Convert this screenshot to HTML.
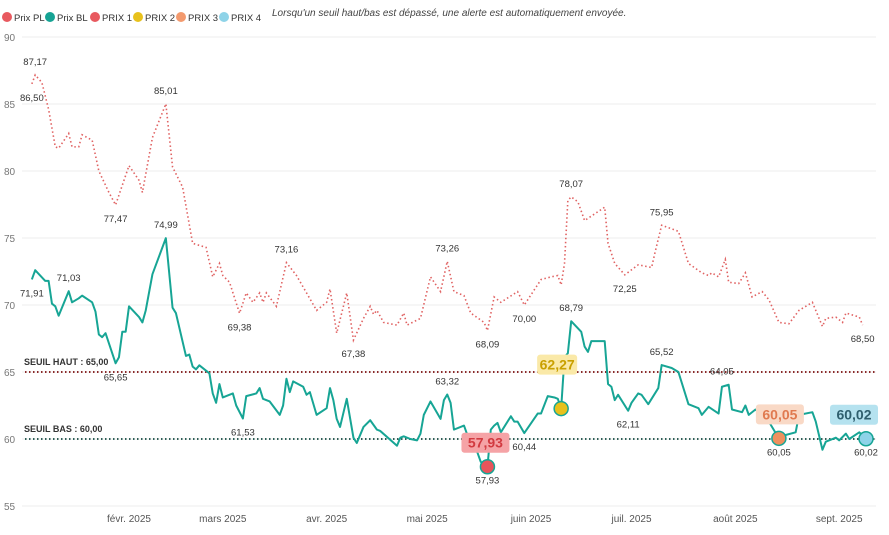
<!DOCTYPE html>
<html><head><meta charset="utf-8">
<style>
body{margin:0;background:#fff;font-family:"Liberation Sans",sans-serif;}
svg text{font-family:"Liberation Sans",sans-serif;}
</style></head>
<body>
<svg id="chart" width="889" height="530" viewBox="0 0 889 530" xmlns="http://www.w3.org/2000/svg">
<g>
  <g><circle cx="7" cy="17" r="5" fill="#E8595F"/><text x="14" y="21" font-size="9.5" fill="#333">Prix PL</text></g>
  <g><circle cx="50" cy="17" r="5" fill="#16A394"/><text x="57" y="21" font-size="9.5" fill="#333">Prix BL</text></g>
  <g><circle cx="95" cy="17" r="5" fill="#E8595F"/><text x="102" y="21" font-size="9.5" fill="#333">PRIX 1</text></g>
  <g><circle cx="138" cy="17" r="5" fill="#E8C11C"/><text x="145" y="21" font-size="9.5" fill="#333">PRIX 2</text></g>
  <g><circle cx="181" cy="17" r="5" fill="#F39A6E"/><text x="188" y="21" font-size="9.5" fill="#333">PRIX 3</text></g>
  <g><circle cx="224" cy="17" r="5" fill="#8ED3E8"/><text x="231" y="21" font-size="9.5" fill="#333">PRIX 4</text></g>
</g>
<text x="272" y="16" font-size="10" font-style="italic" fill="#444">Lorsqu'un seuil haut/bas est dépassé, une alerte est automatiquement envoyée.</text>
<g id="grid"></g>
<g id="plot"></g>
</svg>
<script>
const yTicks=[55,60,65,70,75,80,85,90];
const monthLabels=["févr. 2025","mars 2025","avr. 2025","mai 2025","juin 2025","juil. 2025","août 2025","sept. 2025"];
const monthDays=[31,59,90,120,151,181,212,243];
const blDays=[2,3,6,7,8,9,10,13,14,16,17,20,21,22,23,24,27,28,29,30,31,34,35,36,38,42,44,45,48,49,50,51,52,55,56,57,58,59,62,63,65,66,69,70,71,73,76,77,78,79,80,83,84,85,87,90,91,92,93,94,96,98,99,101,103,105,106,111,112,113,115,117,118,119,121,124,125,126,127,128,131,132,135,136,138,139,140,141,142,145,146,147,149,153,154,156,158,159,160,161,162,163,166,167,168,169,173,174,175,176,177,180,181,183,184,186,189,190,193,195,198,201,202,204,207,208,210,211,214,215,216,218,222,225,227,230,231,235,236,238,239,242,243,245,246,249,251];
const blValues=[71.91,72.6,71.8,71.8,70.1,69.9,69.2,71.03,70.2,70.5,70.7,70.2,69.5,67.8,67.6,67.9,65.65,66.1,68.0,68.0,69.9,69.1,68.7,69.6,72.3,74.99,69.8,69.4,66.2,66.3,65.4,65.2,65.5,64.9,63.4,62.7,64.1,63.1,63.4,62.5,61.53,63.2,63.4,63.8,63.0,62.8,61.8,62.5,64.5,63.5,64.3,63.9,63.3,63.5,61.8,62.3,63.8,62.9,61.5,60.9,63.0,60.1,59.7,60.9,61.4,60.7,60.6,59.5,60.1,60.2,60.0,59.9,60.4,61.8,62.8,61.5,62.9,63.32,62.7,60.7,61.0,60.3,59.0,58.3,57.93,60.7,61.0,61.2,60.5,61.7,61.3,61.3,60.44,61.9,61.9,63.2,63.1,63.0,62.27,66.1,66.4,68.79,68.0,66.9,66.5,67.3,67.3,64.1,63.9,62.9,63.3,62.11,62.7,63.4,63.3,62.6,63.8,65.52,65.3,65.0,62.6,62.3,61.8,62.4,61.9,63.9,64.05,62.2,62.0,62.5,61.8,62.2,61.3,60.05,60.3,60.5,61.8,62.0,61.3,59.2,59.8,60.1,59.9,60.4,60.0,60.5,60.02];
const plDays=[2,3,5,7,9,10,13,14,16,17,20,22,25,27,31,34,35,38,42,44,47,50,54,56,58,59,61,64,66,68,70,71,72,75,78,81,87,90,91,93,96,98,101,103,104,105,107,111,113,114,118,121,124,126,128,131,133,137,138,140,142,147,149,154,157,159,160,161,162,163,165,167,170,173,174,176,179,183,187,188,190,195,198,202,204,205,207,209,210,213,215,217,220,222,225,228,231,235,238,239,242,244,245,249,250];
const plValues=[86.5,87.17,86.6,84.6,81.8,81.7,82.8,81.8,81.8,82.7,82.3,80.0,78.4,77.47,80.4,79.3,78.4,82.5,85.01,80.3,78.8,74.6,74.3,72.1,73.1,72.2,71.7,69.38,70.9,70.2,70.9,70.2,70.9,69.9,73.16,72.2,69.6,70.2,71.2,67.9,70.9,67.38,69.0,69.9,69.3,69.6,68.7,68.5,69.4,68.5,69.0,72.1,71.0,73.26,71.0,70.7,69.4,68.7,68.09,70.6,70.2,71.0,70.0,71.9,72.1,72.2,71.5,73.1,77.8,78.07,77.7,76.3,76.8,77.3,74.6,73.1,72.25,73.0,72.8,73.9,75.95,75.5,73.1,72.4,72.2,72.4,72.1,73.4,71.7,71.6,72.4,70.6,71.0,70.4,68.7,68.6,69.6,70.2,68.4,69.0,69.1,68.7,69.4,69.1,68.5];
const plLabelDays=[3,2,42,27,78,64,98,126,138,149,163,179,190,250];
const plLabelVals=[87.17,86.5,85.01,77.47,73.16,69.38,67.38,73.26,68.09,70.0,78.07,72.25,75.95,68.5];
const plLabelPos=["a","b","a","b","a","b","b","a","b","b","a","b","a","b"];
const blLabelDays=[2,13,42,27,65,126,138,149,163,180,190,208,225,251];
const blLabelVals=[71.91,71.03,74.99,65.65,61.53,63.32,57.93,60.44,68.79,62.11,65.52,64.05,60.05,60.02];
const blLabelPos=["b","a","a","b","b","a","b","b","a","b","a","a","b","b"];
const alertNames=["prix-1","prix-2","prix-3","prix-4"];
const alertDays=[138,160,225,251];
const alertVals=[57.93,62.27,60.05,60.02];
const thresholdVals=[65,60];
const thresholdNames=["SEUIL HAUT : 65,00","SEUIL BAS : 60,00"];

const X0=25,X1=876;
const xs=d=>129+(d-31)*3.35;
const ys=v=>37+(90-v)*13.4;
const NS="http://www.w3.org/2000/svg";
function mk(tag,attrs,parent){const e=document.createElementNS(NS,tag);for(const k in attrs)e.setAttribute(k,attrs[k]);parent.appendChild(e);return e;}
const grid=document.getElementById('grid'),plot=document.getElementById('plot');
yTicks.forEach(v=>{
  const l=mk('line',{x1:22,x2:X1,y1:ys(v),y2:ys(v),stroke:'#ececec','stroke-width':1},grid);
  
  
  const t=mk('text',{x:4,y:ys(v)+4,'font-size':10,fill:'#777'},grid);
  t.textContent=v;
  
  
});
monthLabels.forEach((m,i)=>{
  const t=mk('text',{x:xs(monthDays[i]),y:522,'font-size':10,fill:'#555','text-anchor':'middle'},grid);
  t.textContent=m;
  
  
});
const thrColors=['#8B2A2A','#2E5E56'];
thresholdVals.forEach((v,i)=>{
  const l=mk('line',{x1:X0,x2:X1,y1:ys(v),y2:ys(v),stroke:thrColors[i],'stroke-width':2,'stroke-dasharray':'1.5 2.5'},plot);
  
  
  const t=mk('text',{x:24,y:ys(v)-7,'font-size':9,'font-weight':'bold',fill:'#333'},plot);
  t.textContent=thresholdNames[i];
  
  
});
const pl=mk('polyline',{points:plDays.map((d,i)=>xs(d)+','+ys(plValues[i])).join(' '),fill:'none',stroke:'#E06262','stroke-width':1.6,'stroke-dasharray':'1.5 2.6'},plot);


const bl=mk('polyline',{points:blDays.map((d,i)=>xs(d)+','+ys(blValues[i])).join(' '),fill:'none',stroke:'#17A595','stroke-width':2,'stroke-linejoin':'round'},plot);


const fmt=v=>v.toFixed(2).replace('.',',');
function labels(days,vals,pos,name){
  days.forEach((d,i)=>{
    const t=mk('text',{x:xs(d),y:pos[i]=='a'?ys(vals[i])-10:ys(vals[i])+17,'font-size':9.5,fill:'#333','text-anchor':'middle'},plot);
    t.textContent=fmt(vals[i]);
    
    
  });
}
labels(plLabelDays,plLabelVals,plLabelPos,'prix-pl-data-label');
labels(blLabelDays,blLabelVals,blLabelPos,'prix-bl-data-label');
const fills=['#E8545B','#E8C11C','#F0905E','#8ED3E8'];
const boxBg=['#F5A3A6','#FAE9A8','#F9D9C6','#B5E2EF'];
const boxFg=['#D23A40','#C9A000','#E07A50','#2F5F6E'];
const boxDy=[-25,-45,-25,-25];
alertDays.forEach((d,i)=>{
  const cx=xs(d),cy=ys(alertVals[i]);
  const bx=i==0?cx-26:(i==1?cx-24:(i==2?cx-23:cx-36));
  const by=cy+boxDy[i]-9;
  const r=mk('rect',{x:bx,y:by,width:i==1?40:48,height:20,rx:3,fill:boxBg[i]},plot);
  
  
  const t=mk('text',{x:bx+(i==1?20:24),y:by+15,'font-size':14,'font-weight':'bold',fill:boxFg[i],'text-anchor':'middle'},plot);
  t.textContent=fmt(alertVals[i]);
  
  
  const c=mk('circle',{cx:cx,cy:cy,r:7,fill:fills[i],stroke:'#17A595','stroke-width':1.5},plot);
  
  
});
</script>
</body></html>
